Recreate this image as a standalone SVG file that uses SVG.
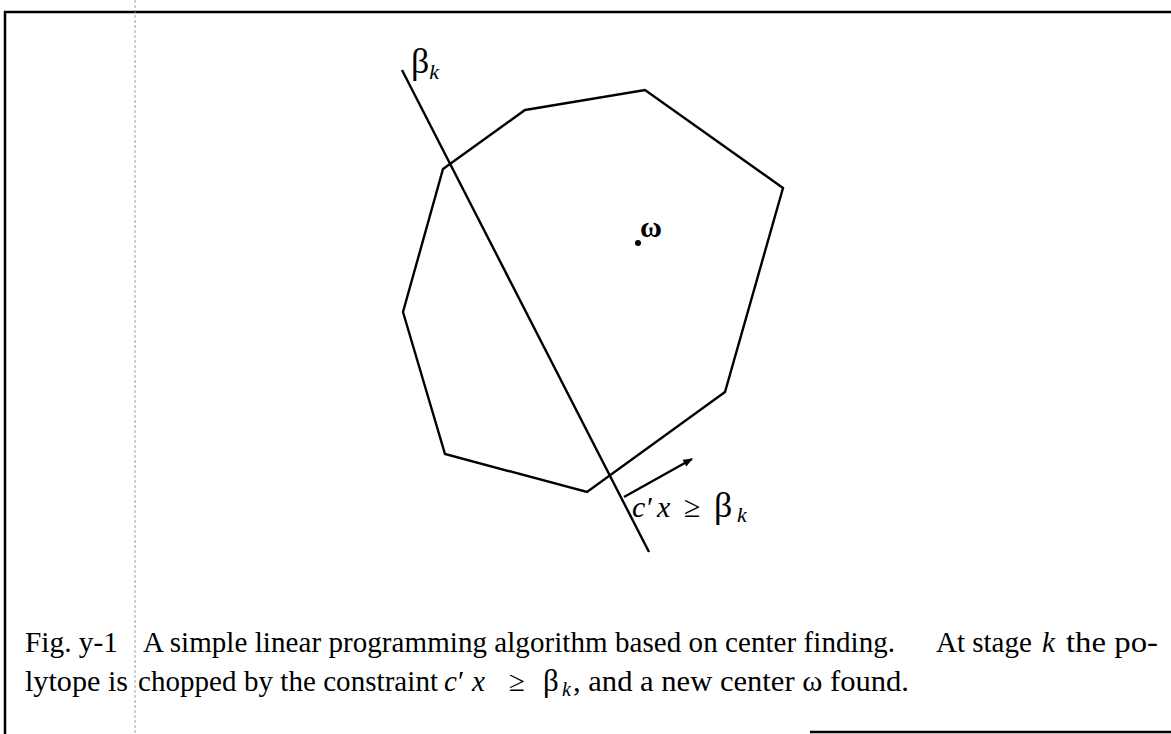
<svg xmlns="http://www.w3.org/2000/svg" width="1171" height="734" viewBox="0 0 1171 734">
<style>
.t{font-family:"Liberation Serif","Times New Roman",serif;fill:#000}
.i{font-style:italic}
.ln{fill:none;stroke:#000;stroke-width:2.4;stroke-linejoin:miter}
.frame{fill:none;stroke:#000;stroke-width:2.5}
</style>
<defs>
<marker id="ah" viewBox="0 0 10 10" refX="9" refY="5" markerWidth="5" markerHeight="4" orient="auto" markerUnits="strokeWidth">
<path d="M0,1 L10,5 L0,9 Z" fill="#000"/>
</marker>
</defs>
<rect width="1171" height="734" fill="#fff"/>
<g id="frame">
<path class="frame" d="M5,734 L5,12 L1171,12"/>
<path class="frame" d="M810,732 L1171,732"/>
<line x1="135" y1="0" x2="135" y2="734" stroke="#888" stroke-width="0.8" stroke-dasharray="3,2"/>
</g>
<g id="polytope">
<polygon class="ln" points="525,110 645,90 783,188 725,392 587,492 445,454 403,312 443,169"/>
</g>
<g id="center">
<circle cx="638" cy="243" r="3" fill="#000"/>
<text class="t" x="640" y="237" font-size="30" font-weight="bold">ω</text>
</g>
<g id="connectors">
<line class="ln" x1="402" y1="70" x2="649" y2="552"/>
<line class="ln" x1="624" y1="497" x2="692" y2="459" marker-end="url(#ah)"/>
</g>
<g id="beta-label">
<text class="t" x="411" y="73" font-size="36">β<tspan class="i" font-size="22" dy="6">k</tspan></text>
</g>
<g id="constraint-label">
<text class="t" font-size="30" y="517"><tspan class="i" x="632">c</tspan><tspan x="647">′</tspan><tspan class="i" x="657">x</tspan><tspan x="684">≥</tspan><tspan x="714" font-size="36">β</tspan><tspan class="i" x="737" dy="5" font-size="22">k</tspan></text>
</g>
<g id="caption">
<text class="t" font-size="29" y="652"><tspan x="25" textLength="93" lengthAdjust="spacingAndGlyphs">Fig. y-1</tspan><tspan x="143" textLength="752" lengthAdjust="spacing">A simple linear programming algorithm based on center finding.</tspan><tspan x="936">At stage</tspan><tspan class="i" x="1042">k</tspan><tspan x="1066" textLength="92" lengthAdjust="spacingAndGlyphs">the po-</tspan></text>
<text class="t" font-size="29" y="691"><tspan x="25" textLength="103" lengthAdjust="spacingAndGlyphs">lytope is</tspan><tspan x="138" textLength="300" lengthAdjust="spacing">chopped by the constraint</tspan><tspan class="i" x="444">c</tspan><tspan x="458">′</tspan><tspan class="i" x="472">x</tspan><tspan x="509">≥</tspan><tspan x="543" font-size="31">β</tspan><tspan class="i" x="562" dy="5" font-size="20">k</tspan><tspan x="573" dy="-5" textLength="336" lengthAdjust="spacingAndGlyphs">, and a new center ω found.</tspan></text>
</g>
</svg>
